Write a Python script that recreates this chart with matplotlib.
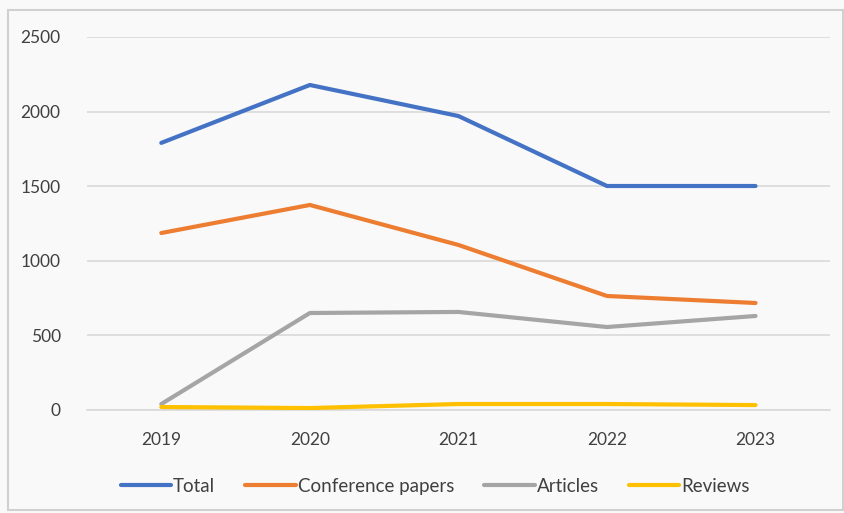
import matplotlib
matplotlib.use('Agg')
import matplotlib.pyplot as plt
from matplotlib.patches import Rectangle

plt.rcParams['font.family'] = ['Lato', 'DejaVu Sans']

years = ['2019', '2020', '2021', '2022', '2023']
total = [1790, 2178, 1970, 1501, 1501]
conference = [1186, 1374, 1106, 764, 717]
articles = [40, 650, 657, 556, 630]
reviews = [20, 13, 40, 40, 33]

series = [
    ('Total', total, '#4472C4'),
    ('Conference papers', conference, '#ED7D31'),
    ('Articles', articles, '#A5A5A5'),
    ('Reviews', reviews, '#FFC000'),
]

fig = plt.figure(figsize=(8.45, 5.13), dpi=100)
fig.patch.set_facecolor('#f9f9f9')
fig.patches.append(Rectangle((8 / 845, 3 / 513), 835 / 845, 500 / 513,
                             transform=fig.transFigure, fill=False,
                             edgecolor='#d0d0d0', linewidth=1.5))

ax = fig.add_axes([0.103, 0.2008, 0.879, 0.7272])
ax.set_facecolor('#f9f9f9')

x = list(range(len(years)))
for name, vals, col in series:
    ax.plot(x, vals, color=col, linewidth=3.0, solid_capstyle='round',
            solid_joinstyle='round', label=name, zorder=3)

ax.set_xlim(-0.5, len(years) - 0.5)
ax.set_ylim(0, 2500)
ax.set_yticks(range(0, 2501, 500))
ax.set_xticks(x)
ax.set_xticklabels(years)
ax.tick_params(length=0, labelsize=12.5, colors='#404040', pad=16)
ax.tick_params(axis='y', pad=19)
ax.grid(axis='y', color='#d9d9d9', linewidth=1.2, zorder=0)
for s in ['top', 'right', 'left']:
    ax.spines[s].set_visible(False)
ax.spines['bottom'].set_color('#d9d9d9')
ax.spines['bottom'].set_linewidth(1.2)

leg = fig.legend(loc='center', bbox_to_anchor=(0.515, 0.052), ncol=4,
                 frameon=False, fontsize=13.5, handlelength=2.7,
                 handletextpad=0.1, columnspacing=1.6)
for t in leg.get_texts():
    t.set_color('#404040')

fig.savefig('out.png', dpi=100, facecolor=fig.get_facecolor())
